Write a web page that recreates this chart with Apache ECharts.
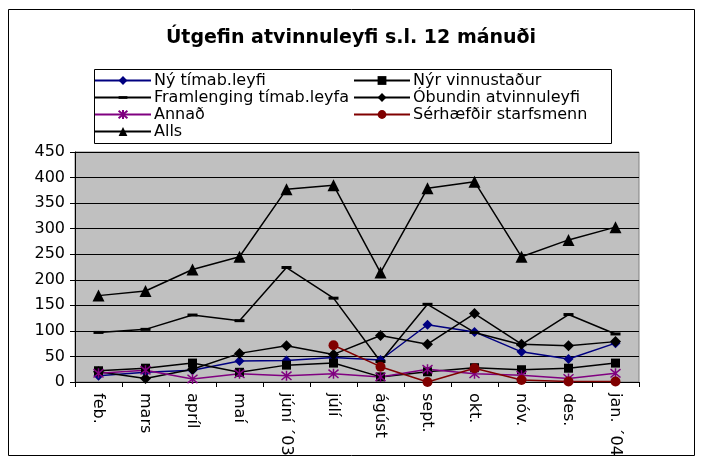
<!DOCTYPE html>
<html><head><meta charset="utf-8">
<script src="https://cdn.jsdelivr.net/npm/echarts@6/dist/echarts.min.js"></script>
<style>html,body{margin:0;padding:0;background:#fff}#c{width:702px;height:466px}</style>
</head><body><div id="c"></div>
<script>
var titleText = 'Útgefin atvinnuleyfi s.l. 12 mánuði';
var months = ['feb.', 'mars', 'apríl', 'maí', 'júní ´03', 'júlí', 'ágúst', 'sept.', 'okt.', 'nóv.', 'des.', 'jan. ´04'];
var nyTimab = [12, 19, 23, 41, 42, 48, 43, 112, 98, 59, 45, 76];
var nyrVinnust = [22, 27, 37, 19, 33, 37, 10, 20, 28, 24, 27, 37];
var framlenging = [97, 103, 131, 120, 224, 164, 40, 152, 97, 73, 132, 94];
var obundin = [20, 7, 25, 56, 71, 54, 91, 74, 134, 74, 71, 79];
var annad = [17, 23, 6, 16, 12, 16, 10, 25, 16, 13, 7, 17];
var serhaefdir = [null, null, null, null, null, 72, 30, 0, 27, 4, 1, 1];
var alls = [169, 178, 220, 245, 377, 385, 214, 379, 392, 245, 278, 303];
var yTicks = {min: 0, max: 450, step: 50};

var names = ['Ný tímab.leyfi', 'Nýr vinnustaður', 'Framlenging tímab.leyfa', 'Óbundin atvinnuleyfi', 'Annað', 'Sérhæfðir starfsmenn', 'Alls'];
var font = 'DejaVu Sans, sans-serif';

function ser(name, data, color, symbol, size, extra) {
  var s = {
    name: name, type: 'line', data: data, symbol: symbol, symbolSize: size,
    showSymbol: true, connectNulls: false, animation: false,
    lineStyle: {color: color, width: 1.5},
    itemStyle: {color: color}
  };
  if (extra) for (var k in extra) s[k] = extra[k];
  return s;
}

var legendCommon = {
  orient: 'vertical', top: 72, padding: 0, itemGap: 0,
  itemWidth: 56, itemHeight: 11,
  textStyle: {fontFamily: font, fontSize: 16, lineHeight: 17, color: '#000', padding: [0, 0, 0, -2]},
  selectedMode: false
};
function legendCol(data, left) {
  var l = {data: data, left: left};
  for (var k in legendCommon) l[k] = legendCommon[k];
  return l;
}

var chart = echarts.init(document.getElementById('c'), null, {renderer: 'canvas'});
chart.setOption({
  animation: false,
  backgroundColor: '#fff',
  title: {
    text: titleText, left: 'center', top: 24,
    textStyle: {fontFamily: font, fontSize: 19, fontWeight: 'bold', color: '#000'}
  },
  graphic: [
    {type: 'rect', shape: {x: 8.5, y: 9.5, width: 686, height: 446}, style: {fill: 'none', stroke: '#000', lineWidth: 1}, z: -1},
    {type: 'rect', shape: {x: 94.5, y: 69.5, width: 517, height: 74}, style: {fill: '#fff', stroke: '#000', lineWidth: 1}, z: 0}
  ],
  legend: [
    legendCol([names[0], names[2], names[4], names[6]], 94),
    legendCol([names[1], names[3], names[5]], 353)
  ],
  grid: {
    left: 75, right: 63, top: 152, bottom: 84, show: true,
    backgroundColor: '#c0c0c0', borderColor: '#808080', borderWidth: 1
  },
  xAxis: {
    type: 'category', data: months, boundaryGap: true,
    axisLine: {lineStyle: {color: '#000', width: 1}},
    axisTick: {show: true, length: 5, lineStyle: {color: '#000'}},
    axisLabel: {rotate: -90, fontFamily: font, fontSize: 16, color: '#000', margin: 11, interval: 0}
  },
  yAxis: {
    type: 'value', min: yTicks.min, max: yTicks.max, interval: yTicks.step,
    axisLine: {show: true, lineStyle: {color: '#000', width: 1}},
    axisTick: {show: true, length: 5, lineStyle: {color: '#000'}},
    axisLabel: {fontFamily: font, fontSize: 16, color: '#000', margin: 10},
    splitLine: {show: true, lineStyle: {color: '#000', width: 1}}
  },
  series: [
    ser(names[0], nyTimab, '#000080', 'diamond', 10),
    ser(names[1], nyrVinnust, '#000', 'rect', 9),
    ser(names[2], framlenging, '#000', 'path://M0,0M10,10M0,3.5L10,3.5L10,6.5L0,6.5Z', 10),
    ser(names[3], obundin, '#000', 'diamond', 11),
    ser(names[4], annad, '#800080', 'path://M0,0L10,10M10,0L0,10M5,-1L5,11', 10, {
      itemStyle: {color: 'rgba(0,0,0,0)', borderColor: '#800080', borderWidth: 1.5}
    }),
    ser(names[5], serhaefdir, '#800000', 'circle', 10),
    ser(names[6], alls, '#000', 'triangle', 12)
  ]
});
</script>
</body></html>
